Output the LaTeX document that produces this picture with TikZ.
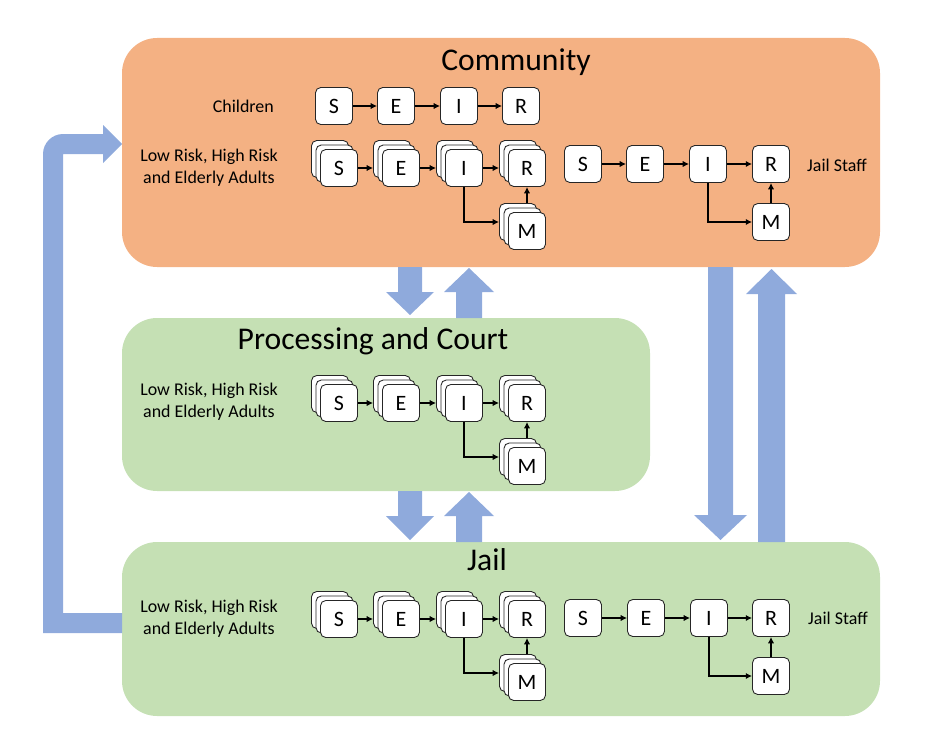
\documentclass[tikz,border=0pt]{standalone}
\usepackage{fontspec}
\setmainfont{Carlito}
\usetikzlibrary{arrows.meta}
\definecolor{commorange}{HTML}{F4B183}
\definecolor{regiongreen}{HTML}{C5E0B4}
\definecolor{arrowblue}{HTML}{8FAADC}
\newcommand\stackbox[4]{%
  \node[stbox] (#1b) at (#2-9,#3-9) {};
  \node[stbox] (#1m) at (#2-4.5,#3-4.5) {};
  \node[stbox] (#1) at (#2,#3) {#4};}
\tikzset{
  stbox/.style={draw=black!85, fill=white, rounded corners=3pt, minimum width=0.74cm,
    minimum height=0.74cm, inner sep=0pt, line width=0.5pt, font=\fontsize{12.5}{14}\selectfont},
  grouplabel/.style={font=\fontsize{10.2}{12.5}\selectfont, align=center},
  regiontitle/.style={font=\fontsize{18}{21}\selectfont},
  region/.style={rounded corners=20pt},
  con/.style={-{Latex[length=3.6pt,width=3.6pt]}, line width=0.7pt},
  blockarrow/.style={fill=arrowblue}
}
\begin{document}
\begin{tikzpicture}[x=0.02cm,y=-0.02cm]
\useasboundingbox (0,0) rectangle (936,750);
% regions
\fill[region, commorange] (122,38) rectangle (880,267);
\fill[region, regiongreen] (122,318) rectangle (650,491);
\fill[region, regiongreen] (122,542) rectangle (880,716);
\node[regiontitle] (commtitle) at (516,62) {Community};
\node[regiontitle] (proctitle) at (373,341) {Processing and Court};
\node[regiontitle] (jailtitle) at (487,560) {Jail};

% block arrows
\fill[blockarrow] (398,267) -- (422,267) -- (422,292) -- (434,292) -- (410,315) -- (386,292) -- (398,292) -- cycle;
\fill[blockarrow] (456,318) -- (482,318) -- (482,292) -- (494,292) -- (469,268) -- (444,292) -- (456,292) -- cycle;
\fill[blockarrow] (398,491) -- (422,491) -- (422,516) -- (434,516) -- (410,540) -- (386,516) -- (398,516) -- cycle;
\fill[blockarrow] (456,542) -- (482,542) -- (482,516) -- (494,516) -- (469,492) -- (444,516) -- (456,516) -- cycle;
\fill[blockarrow] (708,267) -- (733,267) -- (733,515) -- (747,515) -- (720.5,540) -- (694,515) -- (708,515) -- cycle;
\fill[blockarrow] (758,542) -- (785,542) -- (785,294) -- (797,294) -- (771.5,269) -- (746,294) -- (758,294) -- cycle;
\fill[blockarrow] (122,633) -- (43,633) -- (43,154) .. controls (43,143) and (52,134) .. (63,134)
  -- (103,134) -- (103,125) -- (122,144) -- (103,163) -- (103,154) -- (63,154) -- (63,613) -- (122,613) -- cycle;

% ---------- Community ----------
\node[grouplabel, anchor=east] (chlab) at (280,106) {Children};
\node[stbox] (chS) at (334,106) {S};
\node[stbox] (chE) at (396,106) {E};
\node[stbox] (chI) at (459,106) {I};
\node[stbox] (chR) at (521,106) {R};
\draw[con] (chS) -- (chE);
\draw[con] (chE) -- (chI);
\draw[con] (chI) -- (chR);

\node[grouplabel] (clab) at (209,168) {Low Risk, High Risk\\and Elderly Adults};
\stackbox{cS}{339}{168}{S}
\stackbox{cE}{401}{168}{E}
\stackbox{cI}{464}{168}{I}
\stackbox{cR}{527}{168}{R}
\stackbox{cM}{527}{231}{M}
\draw[con] (cS.east) -- (cS.east -| cEb.west);
\draw[con] (cE.east) -- (cE.east -| cIb.west);
\draw[con] (cI.east) -- (cI.east -| cRb.west);
\draw[con] (cI.south) |- (cMb.west);
\draw[con] (cMb.north -| cM.center) -- (cR.south);

\node[stbox] (csS) at (583,164) {S};
\node[stbox] (csE) at (645,164) {E};
\node[stbox] (csI) at (708,164) {I};
\node[stbox] (csR) at (771,164) {R};
\node[stbox] (csM) at (771,222) {M};
\node[grouplabel, anchor=west] (cslab) at (801,165) {Jail Staff};
\draw[con] (csS) -- (csE);
\draw[con] (csE) -- (csI);
\draw[con] (csI) -- (csR);
\draw[con] (csI.south) |- (csM.west);
\draw[con] (csM) -- (csR);

% ---------- Processing and Court ----------
\node[grouplabel] (plab) at (209,402) {Low Risk, High Risk\\and Elderly Adults};
\stackbox{pS}{339}{403}{S}
\stackbox{pE}{401}{403}{E}
\stackbox{pI}{464}{403}{I}
\stackbox{pR}{527}{403}{R}
\stackbox{pM}{527}{466}{M}
\draw[con] (pS.east) -- (pS.east -| pEb.west);
\draw[con] (pE.east) -- (pE.east -| pIb.west);
\draw[con] (pI.east) -- (pI.east -| pRb.west);
\draw[con] (pI.south) |- (pMb.west);
\draw[con] (pMb.north -| pM.center) -- (pR.south);

% ---------- Jail ----------
\node[grouplabel] (jlab) at (209,619) {Low Risk, High Risk\\and Elderly Adults};
\stackbox{jS}{339}{619}{S}
\stackbox{jE}{401}{619}{E}
\stackbox{jI}{464}{619}{I}
\stackbox{jR}{527}{619}{R}
\stackbox{jM}{527}{682}{M}
\draw[con] (jS.east) -- (jS.east -| jEb.west);
\draw[con] (jE.east) -- (jE.east -| jIb.west);
\draw[con] (jI.east) -- (jI.east -| jRb.west);
\draw[con] (jI.south) |- (jMb.west);
\draw[con] (jMb.north -| jM.center) -- (jR.south);

\node[stbox] (jsS) at (583,618) {S};
\node[stbox] (jsE) at (646,618) {E};
\node[stbox] (jsI) at (709,618) {I};
\node[stbox] (jsR) at (771,618) {R};
\node[stbox] (jsM) at (771,676) {M};
\node[grouplabel, anchor=west] (jslab) at (802,618) {Jail Staff};
\draw[con] (jsS) -- (jsE);
\draw[con] (jsE) -- (jsI);
\draw[con] (jsI) -- (jsR);
\draw[con] (jsI.south) |- (jsM.west);
\draw[con] (jsM) -- (jsR);
\end{tikzpicture}
\end{document}
